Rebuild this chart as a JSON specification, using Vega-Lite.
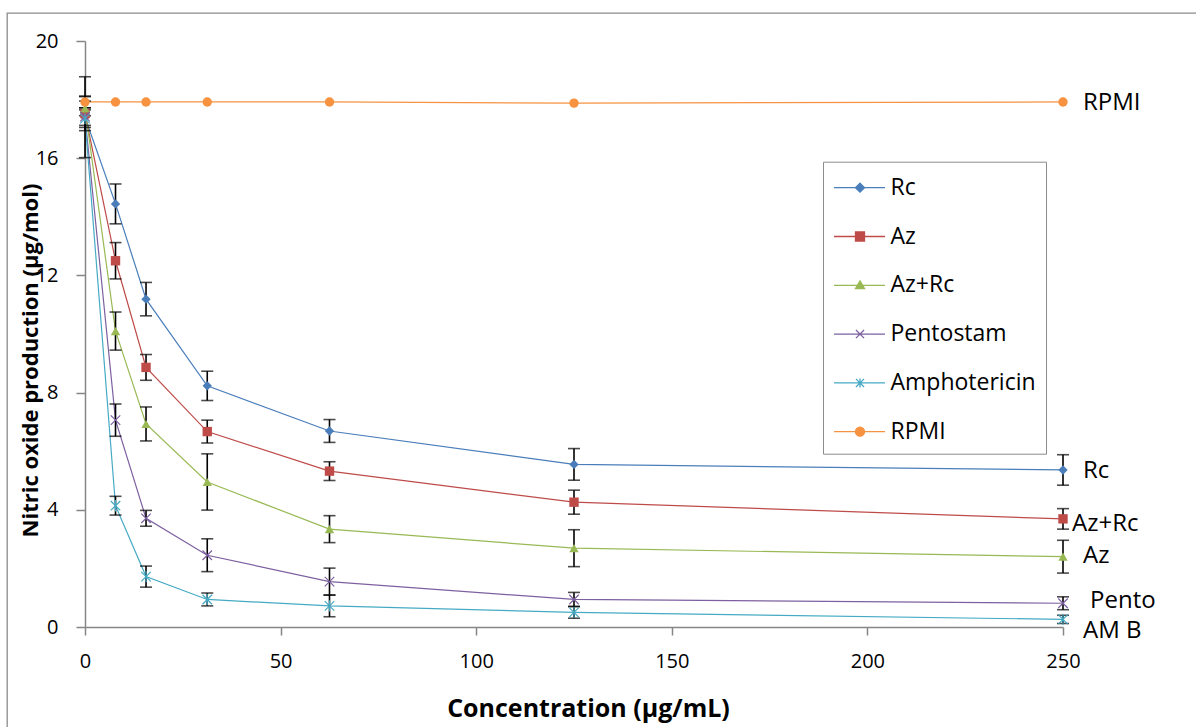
{
  "$schema": "https://vega.github.io/schema/vega-lite/v6.json",
  "width": 1199,
  "height": 724,
  "autosize": "none",
  "padding": {"left": 7, "top": 13, "right": -10, "bottom": -10},
  "background": "white",
  "config": {
    "view": {"stroke": "#8c8c8c", "strokeWidth": 1.3},
    "axis": {
      "domainColor": "#868686", "tickColor": "#868686", "domainWidth": 1.5, "tickWidth": 1.5,
      "labelFont": "Open Sans", "labelFontSize": 20, "labelColor": "black",
      "titleFont": "Open Sans", "titleFontWeight": "bold", "titleFontSize": 21, "titleColor": "black",
      "grid": false, "labelFlush": false, "labelOverlap": false
    },
    "legend": {
      "orient": "none", "legendX": 816, "legendY": 148.7, "padding": 10,
      "strokeColor": "#8c8c8c", "fillColor": "white", "symbolSize": 900, "symbolStrokeWidth": 1.3,
      "labelFont": "Open Sans", "labelFontSize": 23, "labelColor": "black", "labelOffset": 25.5, "rowPadding": 20.8,
      "labelLimit": 400
    }
  },
  "datasets": {
    "main": [
      {"series": "Rc", "conc": 0, "mean": 17.4, "sd": 1.38},
      {"series": "Rc", "conc": 7.8, "mean": 14.44, "sd": 0.68},
      {"series": "Rc", "conc": 15.6, "mean": 11.19, "sd": 0.57},
      {"series": "Rc", "conc": 31.25, "mean": 8.23, "sd": 0.5},
      {"series": "Rc", "conc": 62.5, "mean": 6.69, "sd": 0.39},
      {"series": "Rc", "conc": 125, "mean": 5.55, "sd": 0.54},
      {"series": "Rc", "conc": 250, "mean": 5.36, "sd": 0.52},
      {"series": "Az", "conc": 0, "mean": 17.52, "sd": 0.58},
      {"series": "Az", "conc": 7.8, "mean": 12.5, "sd": 0.62},
      {"series": "Az", "conc": 15.6, "mean": 8.86, "sd": 0.44},
      {"series": "Az", "conc": 31.25, "mean": 6.67, "sd": 0.39},
      {"series": "Az", "conc": 62.5, "mean": 5.32, "sd": 0.32},
      {"series": "Az", "conc": 125, "mean": 4.26, "sd": 0.41},
      {"series": "Az", "conc": 250, "mean": 3.69, "sd": 0.35},
      {"series": "Az+Rc", "conc": 0, "mean": 17.7, "sd": 0.25},
      {"series": "Az+Rc", "conc": 7.8, "mean": 10.1, "sd": 0.65},
      {"series": "Az+Rc", "conc": 15.6, "mean": 6.93, "sd": 0.58},
      {"series": "Az+Rc", "conc": 31.25, "mean": 4.95, "sd": 0.96},
      {"series": "Az+Rc", "conc": 62.5, "mean": 3.34, "sd": 0.46},
      {"series": "Az+Rc", "conc": 125, "mean": 2.69, "sd": 0.63},
      {"series": "Az+Rc", "conc": 250, "mean": 2.4, "sd": 0.56},
      {"series": "Pentostam", "conc": 0, "mean": 17.42, "sd": 0.3},
      {"series": "Pentostam", "conc": 7.8, "mean": 7.06, "sd": 0.55},
      {"series": "Pentostam", "conc": 15.6, "mean": 3.71, "sd": 0.27},
      {"series": "Pentostam", "conc": 31.25, "mean": 2.45, "sd": 0.56},
      {"series": "Pentostam", "conc": 62.5, "mean": 1.55, "sd": 0.46},
      {"series": "Pentostam", "conc": 125, "mean": 0.94, "sd": 0.24},
      {"series": "Pentostam", "conc": 250, "mean": 0.81, "sd": 0.22},
      {"series": "Amphotericin", "conc": 0, "mean": 17.35, "sd": 0.3},
      {"series": "Amphotericin", "conc": 7.8, "mean": 4.14, "sd": 0.32},
      {"series": "Amphotericin", "conc": 15.6, "mean": 1.72, "sd": 0.36},
      {"series": "Amphotericin", "conc": 31.25, "mean": 0.94, "sd": 0.22},
      {"series": "Amphotericin", "conc": 62.5, "mean": 0.72, "sd": 0.37},
      {"series": "Amphotericin", "conc": 125, "mean": 0.5, "sd": 0.2},
      {"series": "Amphotericin", "conc": 250, "mean": 0.26, "sd": 0.14},
      {"series": "RPMI", "conc": 0, "mean": 17.92, "sd": 0.2},
      {"series": "RPMI", "conc": 7.8, "mean": 17.92, "sd": 0},
      {"series": "RPMI", "conc": 15.6, "mean": 17.92, "sd": 0},
      {"series": "RPMI", "conc": 31.25, "mean": 17.92, "sd": 0},
      {"series": "RPMI", "conc": 62.5, "mean": 17.92, "sd": 0},
      {"series": "RPMI", "conc": 125, "mean": 17.88, "sd": 0},
      {"series": "RPMI", "conc": 250, "mean": 17.92, "sd": 0}
    ],
    "labels": [
      {"label": "RPMI", "lx": 255.1, "ly": 17.9},
      {"label": "Rc", "lx": 255.1, "ly": 5.31},
      {"label": "Az+Rc", "lx": 252.3, "ly": 3.53},
      {"label": "Az", "lx": 255.1, "ly": 2.41},
      {"label": "Pento", "lx": 256.9, "ly": 0.9},
      {"label": "AM B", "lx": 255.1, "ly": -0.14}
    ]
  },
  "resolve": {"scale": {"shape": "independent", "fill": "independent", "stroke": "independent"}},
  "layer": [
    {
      "data": {"name": "main"},
      "mark": {"type": "line", "strokeWidth": 1.2},
      "encoding": {
        "x": {"field": "conc", "type": "quantitative", "title": "Concentration (µg/mL)",
          "scale": {"domain": [0, 250], "range": [78, 1056], "nice": false, "zero": false},
          "axis": {"values": [0, 50, 100, 150, 200, 250], "tickSize": 8, "labelPadding": 16, "offset": -110,
            "title": "Concentration (µg/mL)", "titleFontSize": 25, "titleX": 581, "titleY": 89, "titleBaseline": "alphabetic", "titleAlign": "center"}},
        "y": {"field": "mean", "type": "quantitative", "title": "Nitric oxide production (µg/mol)",
          "scale": {"domain": [0, 20], "range": [614, 28], "nice": false, "zero": false},
          "axis": {"values": [0, 4, 8, 12, 16, 20], "tickSize": 9, "labelPadding": 18, "offset": -78,
            "title": "Nitric oxide production (µg/mol)", "titleFontSize": 22, "titleX": -55, "titleY": 347, "titleAngle": -90, "titleBaseline": "middle", "titleAlign": "center"}},
        "color": {"field": "series", "type": "nominal",
          "scale": {"domain": ["Rc", "Az", "Az+Rc", "Pentostam", "Amphotericin", "RPMI"], "range": ["#4a7ebb", "#be4b48", "#98b954", "#7d60a0", "#46aac5", "#f69240"]},
          "legend": null}
      }
    },
    {
      "data": {"name": "main"},
      "transform": [{"filter": "datum.sd > 0"}],
      "mark": {"type": "errorbar", "color": "black", "thickness": 1.6, "ticks": true, "size": 12},
      "encoding": {
        "x": {"field": "conc", "type": "quantitative", "title": "Concentration (µg/mL)"},
        "y": {"field": "mean", "type": "quantitative", "title": "Nitric oxide production (µg/mol)"},
        "yError": {"field": "sd"}
      }
    },
    {
      "data": {"name": "main"},
      "transform": [{"filter": "indexof(['Rc','Az','Az+Rc','RPMI'], datum.series) >= 0"}],
      "mark": {"type": "point", "filled": true, "opacity": 1, "size": 88},
      "encoding": {
        "x": {"field": "conc", "type": "quantitative", "title": "Concentration (µg/mL)"},
        "y": {"field": "mean", "type": "quantitative", "title": "Nitric oxide production (µg/mol)"},
        "color": {"field": "series", "type": "nominal", "legend": null},
        "shape": {"field": "series", "type": "nominal",
          "scale": {"domain": ["Rc", "Az", "Az+Rc", "Pentostam", "Amphotericin", "RPMI"], "range": ["diamond", "square", "triangle-up", "M-1,-1L1,1M-1,1L1,-1", "M-1,-1L1,1M-1,1L1,-1M0,-1.2L0,1.2", "circle"]},
          "legend": null}
      }
    },
    {
      "data": {"name": "main"},
      "transform": [{"filter": "indexof(['Pentostam','Amphotericin'], datum.series) >= 0"}],
      "mark": {"type": "point", "filled": false, "opacity": 1, "size": 90, "strokeWidth": 1.2},
      "encoding": {
        "x": {"field": "conc", "type": "quantitative", "title": "Concentration (µg/mL)"},
        "y": {"field": "mean", "type": "quantitative", "title": "Nitric oxide production (µg/mol)"},
        "color": {"field": "series", "type": "nominal", "legend": null},
        "shape": {"field": "series", "type": "nominal",
          "scale": {"domain": ["Rc", "Az", "Az+Rc", "Pentostam", "Amphotericin", "RPMI"], "range": ["diamond", "square", "triangle-up", "M-1,-1L1,1M-1,1L1,-1", "M-1,-1L1,1M-1,1L1,-1M0,-1.2L0,1.2", "circle"]},
          "legend": null}
      }
    },
    {
      "data": {"name": "labels"},
      "mark": {"type": "text", "font": "Open Sans", "fontSize": 24, "align": "left", "baseline": "middle", "color": "black"},
      "encoding": {
        "x": {"field": "lx", "type": "quantitative", "title": "Concentration (µg/mL)"},
        "y": {"field": "ly", "type": "quantitative", "title": "Nitric oxide production (µg/mol)"},
        "text": {"field": "label"}
      }
    },
    {
      "data": {"name": "main"},
      "transform": [{"filter": "false"}],
      "mark": {"type": "point", "filled": true, "opacity": 1},
      "encoding": {
        "x": {"field": "conc", "type": "quantitative", "title": "Concentration (µg/mL)"},
        "y": {"field": "mean", "type": "quantitative", "title": "Nitric oxide production (µg/mol)"},
        "fill": {"field": "series", "type": "nominal",
          "scale": {"domain": ["Rc", "Az", "Az+Rc", "Pentostam", "Amphotericin", "RPMI"], "range": ["#4a7ebb", "#be4b48", "#98b954", "#7d60a0", "#46aac5", "#f69240"]},
          "legend": {"title": null}},
        "stroke": {"field": "series", "type": "nominal",
          "scale": {"domain": ["Rc", "Az", "Az+Rc", "Pentostam", "Amphotericin", "RPMI"], "range": ["#4a7ebb", "#be4b48", "#98b954", "#7d60a0", "#46aac5", "#f69240"]},
          "legend": {"title": null}},
        "shape": {"field": "series", "type": "nominal",
          "scale": {"domain": ["Rc", "Az", "Az+Rc", "Pentostam", "Amphotericin", "RPMI"],
            "range": [
              "M-1,0H2.4M0.733,-0.3L1.033,0L0.733,0.3L0.433,0Z",
              "M-1,0H2.4M0.433,-0.3H1.033V0.3H0.433Z",
              "M-1,0H2.4M0.733,-0.29L1.033,0.22L0.433,0.22Z",
              "M-1,0H2.4M0.463,-0.27L1.003,0.27M0.463,0.27L1.003,-0.27",
              "M-1,0H2.4M0.463,-0.27L1.003,0.27M0.463,0.27L1.003,-0.27M0.733,-0.3V0.3",
              "M-1,0H2.4M0.433,0A0.3,0.3,0,1,0,1.033,0A0.3,0.3,0,1,0,0.433,0Z"
            ]},
          "legend": {"title": null}}
      }
    }
  ]
}
